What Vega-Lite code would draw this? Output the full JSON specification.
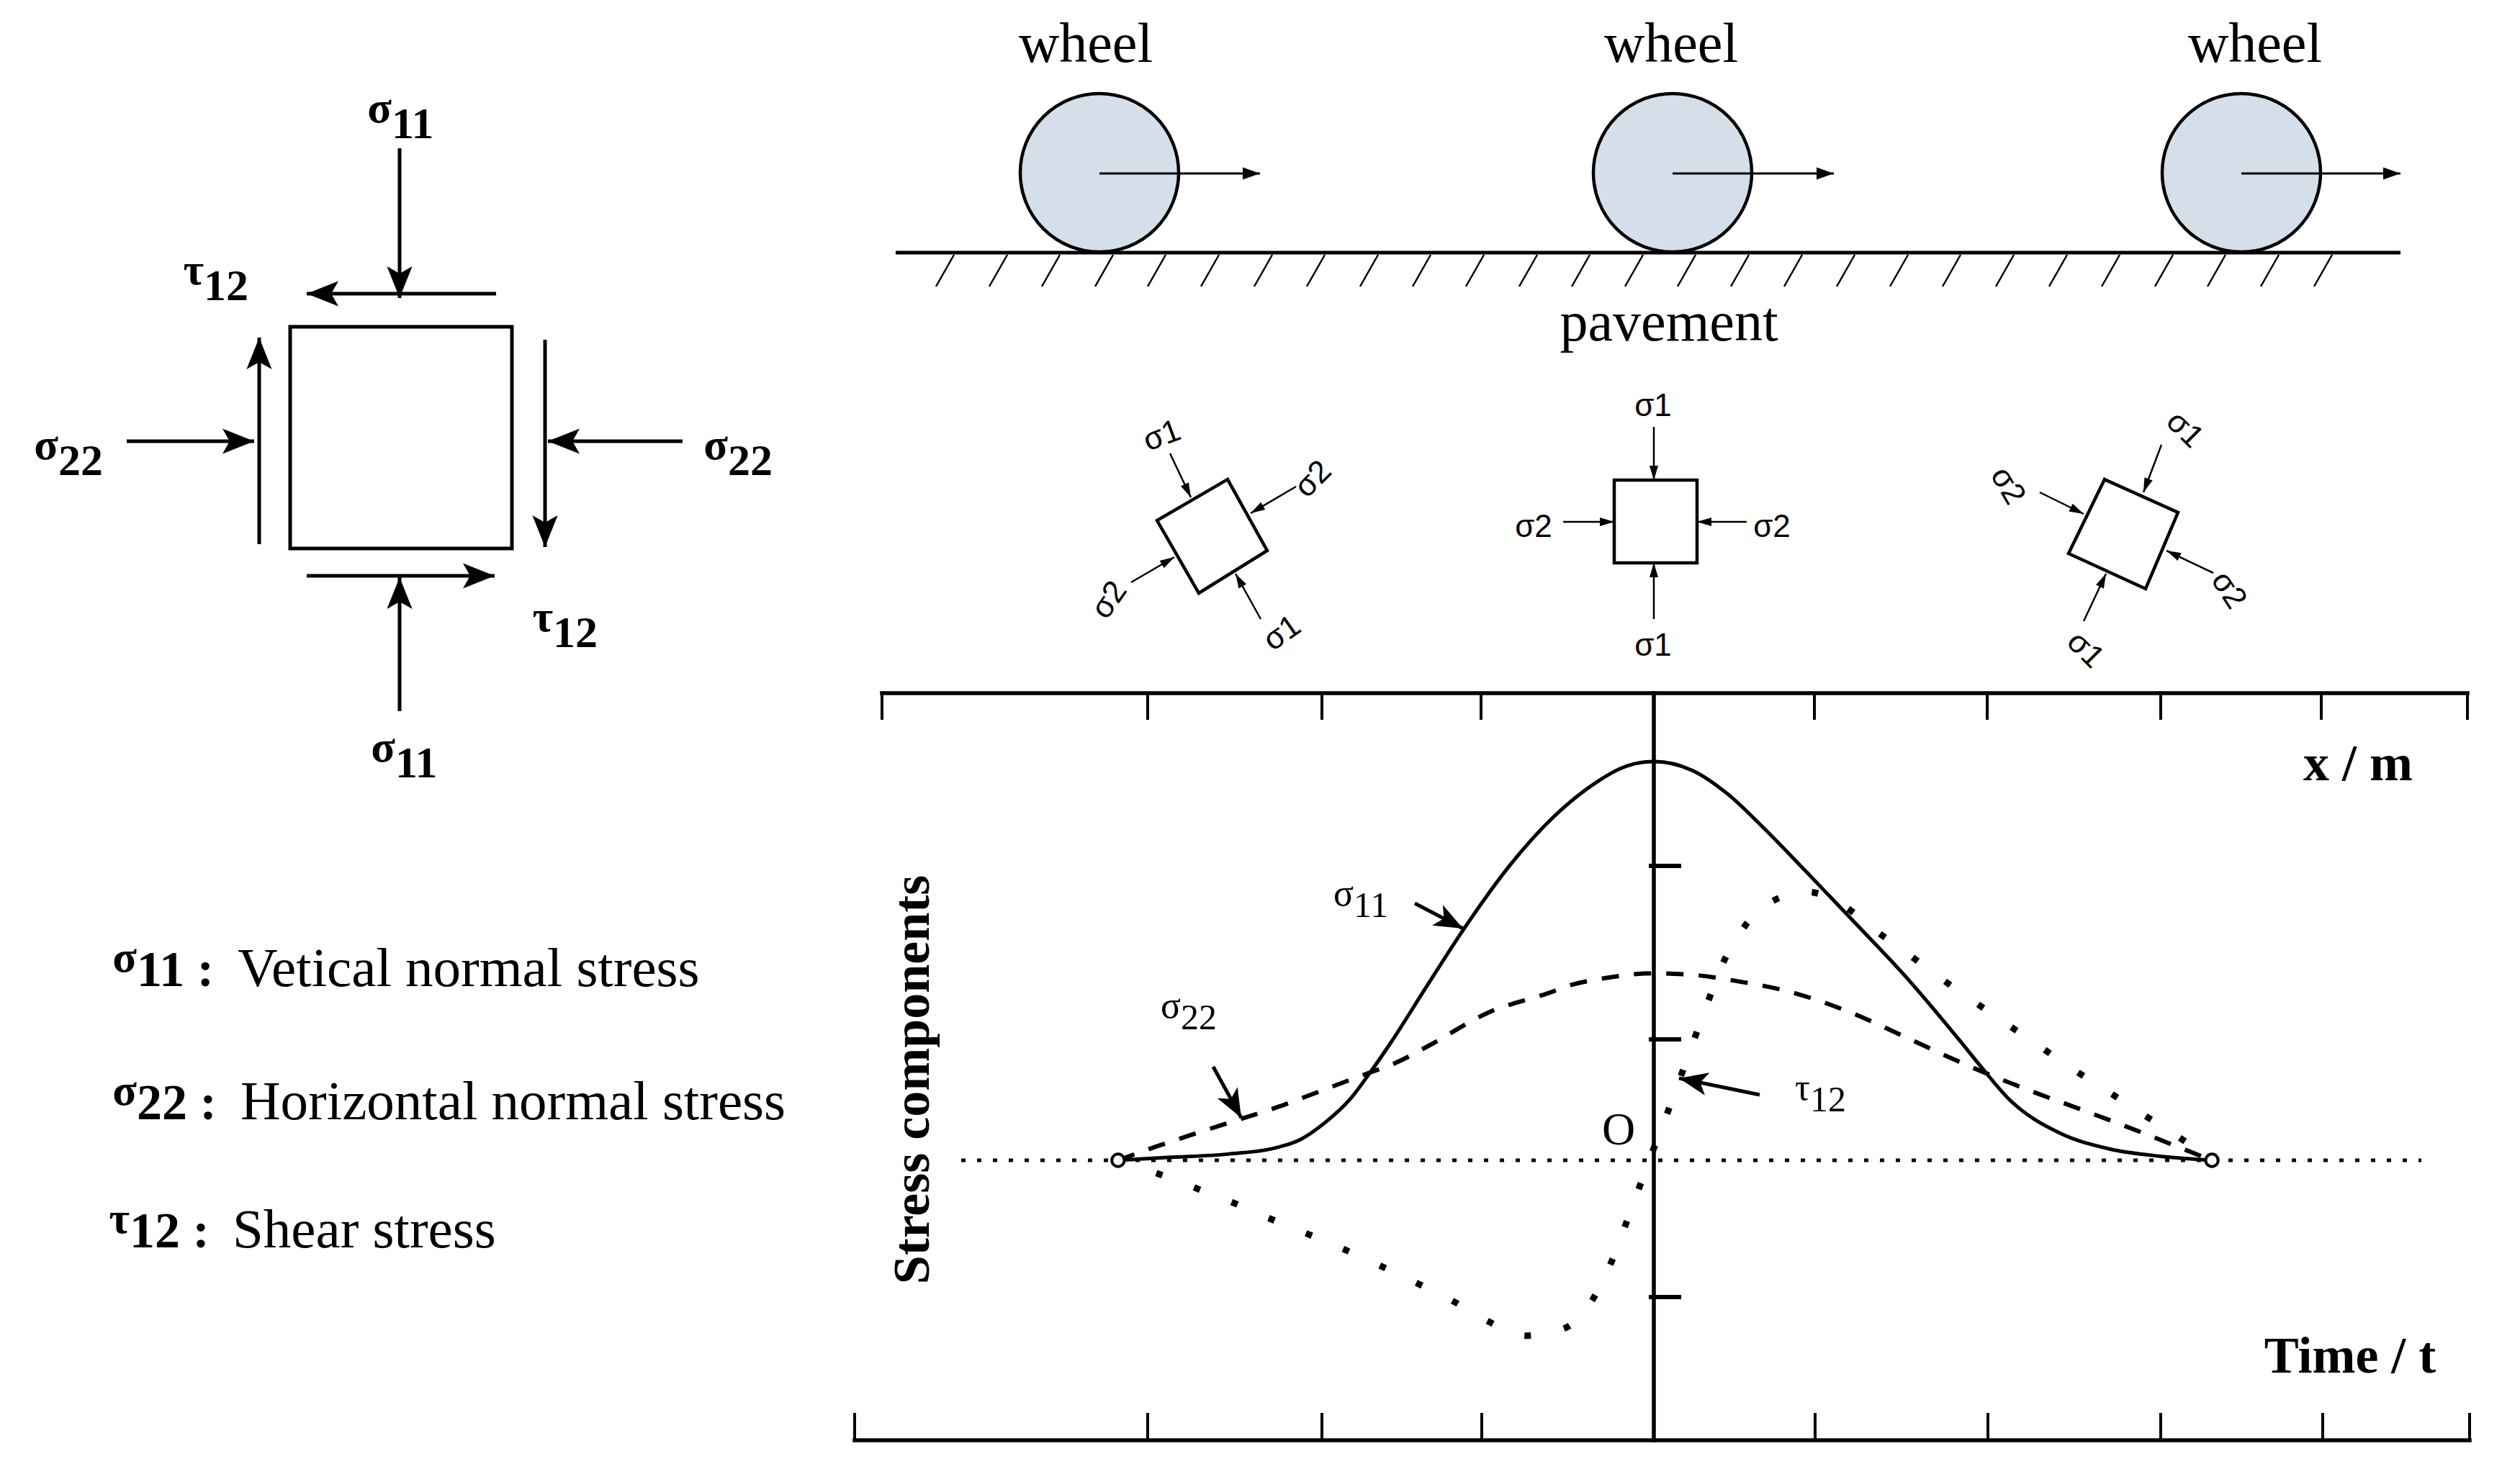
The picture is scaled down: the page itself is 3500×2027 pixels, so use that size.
{
  "$schema": "https://vega.github.io/schema/vega-lite/v6.json",
  "width": 3500,
  "height": 2027,
  "autosize": {"type": "fit", "contains": "padding"},
  "padding": 0,
  "background": "white",
  "config": {"view": {"stroke": null}},
  "datasets": {
    "segs": [
      {"kind": "axis", "x": 1225, "y": 963, "x2": 3427, "y2": 963},
      {"kind": "axis", "x": 1187, "y": 2001, "x2": 3430, "y2": 2001},
      {"kind": "axis", "x": 2297, "y": 963, "x2": 2297, "y2": 2001},
      {"kind": "tick", "x": 1225, "y": 963, "x2": 1225, "y2": 1000},
      {"kind": "tick", "x": 1594, "y": 963, "x2": 1594, "y2": 1000},
      {"kind": "tick", "x": 1836, "y": 963, "x2": 1836, "y2": 1000},
      {"kind": "tick", "x": 2057, "y": 963, "x2": 2057, "y2": 1000},
      {"kind": "tick", "x": 2520, "y": 963, "x2": 2520, "y2": 1000},
      {"kind": "tick", "x": 2760, "y": 963, "x2": 2760, "y2": 1000},
      {"kind": "tick", "x": 3001, "y": 963, "x2": 3001, "y2": 1000},
      {"kind": "tick", "x": 3224, "y": 963, "x2": 3224, "y2": 1000},
      {"kind": "tick", "x": 3427, "y": 963, "x2": 3427, "y2": 1000},
      {"kind": "tick", "x": 1187, "y": 2001, "x2": 1187, "y2": 1963},
      {"kind": "tick", "x": 1594, "y": 2001, "x2": 1594, "y2": 1963},
      {"kind": "tick", "x": 1836, "y": 2001, "x2": 1836, "y2": 1963},
      {"kind": "tick", "x": 2058, "y": 2001, "x2": 2058, "y2": 1963},
      {"kind": "tick", "x": 2521, "y": 2001, "x2": 2521, "y2": 1963},
      {"kind": "tick", "x": 2761, "y": 2001, "x2": 2761, "y2": 1963},
      {"kind": "tick", "x": 3001, "y": 2001, "x2": 3001, "y2": 1963},
      {"kind": "tick", "x": 3226, "y": 2001, "x2": 3226, "y2": 1963},
      {"kind": "tick", "x": 3430, "y": 2001, "x2": 3430, "y2": 1963},
      {"kind": "ytick", "x": 2290, "y": 1203, "x2": 2335, "y2": 1203},
      {"kind": "ytick", "x": 2290, "y": 1444, "x2": 2335, "y2": 1444},
      {"kind": "ytick", "x": 2290, "y": 1802, "x2": 2335, "y2": 1802},
      {"kind": "ground", "x": 1244, "y": 351, "x2": 3334, "y2": 351},
      {"kind": "hatch", "x": 1325, "y": 354, "x2": 1300, "y2": 398},
      {"kind": "hatch", "x": 1399, "y": 354, "x2": 1374, "y2": 398},
      {"kind": "hatch", "x": 1472, "y": 354, "x2": 1447, "y2": 398},
      {"kind": "hatch", "x": 1546, "y": 354, "x2": 1521, "y2": 398},
      {"kind": "hatch", "x": 1619, "y": 354, "x2": 1594, "y2": 398},
      {"kind": "hatch", "x": 1693, "y": 354, "x2": 1668, "y2": 398},
      {"kind": "hatch", "x": 1767, "y": 354, "x2": 1742, "y2": 398},
      {"kind": "hatch", "x": 1840, "y": 354, "x2": 1815, "y2": 398},
      {"kind": "hatch", "x": 1914, "y": 354, "x2": 1889, "y2": 398},
      {"kind": "hatch", "x": 1987, "y": 354, "x2": 1962, "y2": 398},
      {"kind": "hatch", "x": 2061, "y": 354, "x2": 2036, "y2": 398},
      {"kind": "hatch", "x": 2135, "y": 354, "x2": 2110, "y2": 398},
      {"kind": "hatch", "x": 2208, "y": 354, "x2": 2183, "y2": 398},
      {"kind": "hatch", "x": 2282, "y": 354, "x2": 2257, "y2": 398},
      {"kind": "hatch", "x": 2355, "y": 354, "x2": 2330, "y2": 398},
      {"kind": "hatch", "x": 2429, "y": 354, "x2": 2404, "y2": 398},
      {"kind": "hatch", "x": 2503, "y": 354, "x2": 2478, "y2": 398},
      {"kind": "hatch", "x": 2576, "y": 354, "x2": 2551, "y2": 398},
      {"kind": "hatch", "x": 2650, "y": 354, "x2": 2625, "y2": 398},
      {"kind": "hatch", "x": 2723, "y": 354, "x2": 2698, "y2": 398},
      {"kind": "hatch", "x": 2797, "y": 354, "x2": 2772, "y2": 398},
      {"kind": "hatch", "x": 2871, "y": 354, "x2": 2846, "y2": 398},
      {"kind": "hatch", "x": 2944, "y": 354, "x2": 2919, "y2": 398},
      {"kind": "hatch", "x": 3018, "y": 354, "x2": 2993, "y2": 398},
      {"kind": "hatch", "x": 3091, "y": 354, "x2": 3066, "y2": 398},
      {"kind": "hatch", "x": 3165, "y": 354, "x2": 3140, "y2": 398},
      {"kind": "hatch", "x": 3239, "y": 354, "x2": 3214, "y2": 398},
      {"kind": "zero", "x": 1335, "y": 1612, "x2": 3363, "y2": 1612}
    ],
    "arrows": [
      {"kind": "element", "x": 555, "y": 206, "x2": 555, "y2": 414, "ang": 180},
      {"kind": "element", "x": 555, "y": 988, "x2": 555, "y2": 802, "ang": 0},
      {"kind": "element", "x": 689, "y": 408, "x2": 426, "y2": 408, "ang": 270},
      {"kind": "element", "x": 426, "y": 800, "x2": 687, "y2": 800, "ang": 90},
      {"kind": "element", "x": 360, "y": 756, "x2": 360, "y2": 469, "ang": 0},
      {"kind": "element", "x": 757, "y": 472, "x2": 757, "y2": 760, "ang": 180},
      {"kind": "element", "x": 176, "y": 613, "x2": 353, "y2": 613, "ang": 90},
      {"kind": "element", "x": 948, "y": 613, "x2": 761, "y2": 613, "ang": 270},
      {"kind": "wheel", "x": 1527, "y": 241, "x2": 1750, "y2": 241, "ang": 90},
      {"kind": "wheel", "x": 2323, "y": 241, "x2": 2547, "y2": 241, "ang": 90},
      {"kind": "wheel", "x": 3113, "y": 241, "x2": 3334, "y2": 241, "ang": 90},
      {"kind": "small", "x": 2297, "y": 593, "x2": 2297, "y2": 667, "ang": 180},
      {"kind": "small", "x": 2297, "y": 860, "x2": 2297, "y2": 782, "ang": 0},
      {"kind": "small", "x": 2171, "y": 725, "x2": 2242, "y2": 725, "ang": 90},
      {"kind": "small", "x": 2426, "y": 725, "x2": 2357, "y2": 725, "ang": 270},
      {"kind": "small", "x": 1625, "y": 630, "x2": 1654, "y2": 691, "ang": 154.6},
      {"kind": "small", "x": 1800, "y": 676, "x2": 1737, "y2": 713, "ang": 239.6},
      {"kind": "small", "x": 1571, "y": 809, "x2": 1631, "y2": 774, "ang": 59.7},
      {"kind": "small", "x": 1751, "y": 860, "x2": 1716, "y2": 797, "ang": 330.9},
      {"kind": "small", "x": 3002, "y": 618, "x2": 2977, "y2": 684, "ang": 200.7},
      {"kind": "small", "x": 2833, "y": 684, "x2": 2894, "y2": 714, "ang": 116.2},
      {"kind": "small", "x": 3074, "y": 796, "x2": 3009, "y2": 765, "ang": 295.5},
      {"kind": "small", "x": 2894, "y": 863, "x2": 2925, "y2": 797, "ang": 25.2},
      {"kind": "chart", "x": 1965, "y": 1255, "x2": 2032, "y2": 1290, "ang": 117.6},
      {"kind": "chart", "x": 1685, "y": 1482, "x2": 1724, "y2": 1553, "ang": 151.2},
      {"kind": "chart", "x": 2444, "y": 1521, "x2": 2332, "y2": 1498, "ang": 281.6}
    ],
    "polys": [
      {"shape": "element", "i": 0, "x": 403, "y": 454},
      {"shape": "element", "i": 1, "x": 711, "y": 454},
      {"shape": "element", "i": 2, "x": 711, "y": 762},
      {"shape": "element", "i": 3, "x": 403, "y": 762},
      {"shape": "element", "i": 4, "x": 403, "y": 454},
      {"shape": "sqC", "i": 0, "x": 2242, "y": 667},
      {"shape": "sqC", "i": 1, "x": 2357, "y": 667},
      {"shape": "sqC", "i": 2, "x": 2357, "y": 782},
      {"shape": "sqC", "i": 3, "x": 2242, "y": 782},
      {"shape": "sqC", "i": 4, "x": 2242, "y": 667},
      {"shape": "sqL", "i": 0, "x": 1705, "y": 666},
      {"shape": "sqL", "i": 1, "x": 1760, "y": 765},
      {"shape": "sqL", "i": 2, "x": 1665, "y": 824},
      {"shape": "sqL", "i": 3, "x": 1607, "y": 723},
      {"shape": "sqL", "i": 4, "x": 1705, "y": 666},
      {"shape": "sqR", "i": 0, "x": 2923, "y": 666},
      {"shape": "sqR", "i": 1, "x": 3025, "y": 712},
      {"shape": "sqR", "i": 2, "x": 2980, "y": 818},
      {"shape": "sqR", "i": 3, "x": 2873, "y": 769},
      {"shape": "sqR", "i": 4, "x": 2923, "y": 666}
    ],
    "wheels": [
      {"x": 1527, "y": 240},
      {"x": 2323, "y": 240},
      {"x": 3113, "y": 240}
    ],
    "texts": [
      {"kind": "big", "x": 1508, "y": 86, "text": "wheel"},
      {"kind": "big", "x": 2321, "y": 86, "text": "wheel"},
      {"kind": "big", "x": 3132, "y": 86, "text": "wheel"},
      {"kind": "big", "x": 2318, "y": 473, "text": "pavement"},
      {"kind": "axisTitle", "x": 3275, "y": 1084, "text": "x / m"},
      {"kind": "axisTitle", "x": 3264, "y": 1907, "text": "Time / t"},
      {"kind": "vtitle", "x": 1268, "y": 1500, "text": "Stress components"},
      {"kind": "origin", "x": 2248, "y": 1571, "text": "O"}
    ],
    "symLabels": [
      {"kind": "element", "x": 544, "y": 170, "sym": "σ", "sub": "11"},
      {"kind": "element", "x": 549, "y": 1058, "sym": "σ", "sub": "11"},
      {"kind": "element", "x": 283, "y": 395, "sym": "τ", "sub": "12"},
      {"kind": "element", "x": 768, "y": 877, "sym": "τ", "sub": "12"},
      {"kind": "element", "x": 81, "y": 638, "sym": "σ", "sub": "22"},
      {"kind": "element", "x": 1011, "y": 638, "sym": "σ", "sub": "22"},
      {"kind": "chart", "x": 1880, "y": 1258, "sym": "σ", "sub": "11"},
      {"kind": "chart", "x": 1640, "y": 1414, "sym": "σ", "sub": "22"},
      {"kind": "chart", "x": 2514, "y": 1528, "sym": "τ", "sub": "12"}
    ],
    "legend": [
      {"x": 190, "y": 1370, "sym": "σ", "sub": "11 :", "xd": 330, "desc": "Vetical normal stress"},
      {"x": 190, "y": 1555, "sym": "σ", "sub": "22 :", "xd": 334, "desc": "Horizontal normal stress"},
      {"x": 180, "y": 1733, "sym": "τ", "sub": "12 :", "xd": 323, "desc": "Shear stress"}
    ],
    "smallLabels": [
      {"x": 2296, "y": 565, "text": "σ1", "ang": 0},
      {"x": 2296, "y": 898, "text": "σ1", "ang": 0},
      {"x": 2130, "y": 733, "text": "σ2", "ang": 0},
      {"x": 2461, "y": 733, "text": "σ2", "ang": 0},
      {"x": 1614, "y": 606, "text": "σ1", "ang": -20},
      {"x": 1824, "y": 666, "text": "σ2", "ang": -45},
      {"x": 1541, "y": 834, "text": "σ2", "ang": -55},
      {"x": 1781, "y": 880, "text": "σ1", "ang": -35},
      {"x": 3034, "y": 597, "text": "σ1", "ang": 45},
      {"x": 2788, "y": 675, "text": "σ2", "ang": 60},
      {"x": 3095, "y": 820, "text": "σ2", "ang": 57},
      {"x": 2896, "y": 903, "text": "σ1", "ang": 45}
    ],
    "curves": [
      {"c": "s11", "t": -3.195, "s": 0},
      {"c": "s11", "t": -2.898, "s": 0.007},
      {"c": "s11", "t": -2.529, "s": 0.016},
      {"c": "s11", "t": -2.258, "s": 0.031},
      {"c": "s11", "t": -2.108, "s": 0.052},
      {"c": "s11", "t": -1.962, "s": 0.094},
      {"c": "s11", "t": -1.812, "s": 0.153},
      {"c": "s11", "t": -1.692, "s": 0.220},
      {"c": "s11", "t": -1.567, "s": 0.296},
      {"c": "s11", "t": -1.361, "s": 0.432},
      {"c": "s11", "t": -1.138, "s": 0.577},
      {"c": "s11", "t": -0.854, "s": 0.742},
      {"c": "s11", "t": -0.601, "s": 0.860},
      {"c": "s11", "t": -0.343, "s": 0.948},
      {"c": "s11", "t": -0.202, "s": 0.982},
      {"c": "s11", "t": 0, "s": 1.0},
      {"c": "s11", "t": 0.228, "s": 0.978},
      {"c": "s11", "t": 0.442, "s": 0.918},
      {"c": "s11", "t": 0.644, "s": 0.838},
      {"c": "s11", "t": 0.915, "s": 0.721},
      {"c": "s11", "t": 1.219, "s": 0.587},
      {"c": "s11", "t": 1.520, "s": 0.452},
      {"c": "s11", "t": 1.821, "s": 0.302},
      {"c": "s11", "t": 1.941, "s": 0.240},
      {"c": "s11", "t": 2.121, "s": 0.152},
      {"c": "s11", "t": 2.422, "s": 0.068},
      {"c": "s11", "t": 2.722, "s": 0.028},
      {"c": "s11", "t": 3.023, "s": 0.010},
      {"c": "s11", "t": 3.328, "s": 0},
      {"c": "s22", "t": -3.195, "s": 0},
      {"c": "s22", "t": -2.971, "s": 0.034},
      {"c": "s22", "t": -2.800, "s": 0.058},
      {"c": "s22", "t": -2.602, "s": 0.085},
      {"c": "s22", "t": -2.430, "s": 0.108},
      {"c": "s22", "t": -2.233, "s": 0.135},
      {"c": "s22", "t": -2.061, "s": 0.162},
      {"c": "s22", "t": -1.885, "s": 0.190},
      {"c": "s22", "t": -1.713, "s": 0.217},
      {"c": "s22", "t": -1.541, "s": 0.244},
      {"c": "s22", "t": -1.344, "s": 0.287},
      {"c": "s22", "t": -0.979, "s": 0.372},
      {"c": "s22", "t": -0.631, "s": 0.419},
      {"c": "s22", "t": -0.489, "s": 0.440},
      {"c": "s22", "t": -0.288, "s": 0.457},
      {"c": "s22", "t": 0, "s": 0.469},
      {"c": "s22", "t": 0.258, "s": 0.464},
      {"c": "s22", "t": 0.472, "s": 0.451},
      {"c": "s22", "t": 0.824, "s": 0.421},
      {"c": "s22", "t": 1.189, "s": 0.368},
      {"c": "s22", "t": 1.520, "s": 0.305},
      {"c": "s22", "t": 1.881, "s": 0.236},
      {"c": "s22", "t": 2.241, "s": 0.175},
      {"c": "s22", "t": 2.602, "s": 0.119},
      {"c": "s22", "t": 2.963, "s": 0.061},
      {"c": "s22", "t": 3.177, "s": 0.025},
      {"c": "s22", "t": 3.328, "s": 0},
      {"c": "t12", "t": -3.195, "s": 0},
      {"c": "t12", "t": -2.941, "s": -0.036},
      {"c": "t12", "t": -2.718, "s": -0.072},
      {"c": "t12", "t": -2.499, "s": -0.108},
      {"c": "t12", "t": -2.280, "s": -0.148},
      {"c": "t12", "t": -2.057, "s": -0.186},
      {"c": "t12", "t": -1.833, "s": -0.226},
      {"c": "t12", "t": -1.619, "s": -0.267},
      {"c": "t12", "t": -1.408, "s": -0.309},
      {"c": "t12", "t": -1.194, "s": -0.354},
      {"c": "t12", "t": -0.988, "s": -0.404},
      {"c": "t12", "t": -0.764, "s": -0.440},
      {"c": "t12", "t": -0.537, "s": -0.422},
      {"c": "t12", "t": -0.369, "s": -0.352},
      {"c": "t12", "t": -0.262, "s": -0.264},
      {"c": "t12", "t": -0.176, "s": -0.170},
      {"c": "t12", "t": -0.094, "s": -0.076},
      {"c": "t12", "t": -0.013, "s": 0.016},
      {"c": "t12", "t": 0.073, "s": 0.110},
      {"c": "t12", "t": 0.155, "s": 0.204},
      {"c": "t12", "t": 0.236, "s": 0.298},
      {"c": "t12", "t": 0.318, "s": 0.392},
      {"c": "t12", "t": 0.404, "s": 0.487},
      {"c": "t12", "t": 0.520, "s": 0.574},
      {"c": "t12", "t": 0.691, "s": 0.646},
      {"c": "t12", "t": 0.915, "s": 0.673},
      {"c": "t12", "t": 1.129, "s": 0.639},
      {"c": "t12", "t": 1.322, "s": 0.576},
      {"c": "t12", "t": 1.520, "s": 0.516},
      {"c": "t12", "t": 1.709, "s": 0.457},
      {"c": "t12", "t": 1.906, "s": 0.399},
      {"c": "t12", "t": 2.100, "s": 0.343},
      {"c": "t12", "t": 2.297, "s": 0.287},
      {"c": "t12", "t": 2.490, "s": 0.231},
      {"c": "t12", "t": 2.692, "s": 0.177},
      {"c": "t12", "t": 2.894, "s": 0.121},
      {"c": "t12", "t": 3.091, "s": 0.069},
      {"c": "t12", "t": 3.328, "s": 0}
    ],
    "ends": [
      {"t": -3.195, "s": 0},
      {"t": 3.328, "s": 0}
    ]
  },
  "layer": [
    {
      "encoding": {
        "x": {"field": "x", "type": "quantitative", "scale": {"domain": [0, 3500], "nice": false, "zero": false}, "axis": null},
        "y": {"field": "y", "type": "quantitative", "scale": {"domain": [0, 2027], "nice": false, "zero": false, "reverse": true}, "axis": null}
      },
      "layer": [
        {
          "data": {"name": "wheels"},
          "mark": {"type": "point", "shape": "circle", "size": 48400, "filled": true, "fill": "#d4dfea", "stroke": "black", "strokeWidth": 4.5, "opacity": 1}
        },
        {
          "data": {"name": "segs"},
          "transform": [{"filter": {"field": "kind", "equal": "ground"}}],
          "mark": {"type": "rule", "color": "black", "strokeWidth": 5},
          "encoding": {"x2": {"field": "x2"}, "y2": {"field": "y2"}}
        },
        {
          "data": {"name": "segs"},
          "transform": [{"filter": {"field": "kind", "equal": "hatch"}}],
          "mark": {"type": "rule", "color": "black", "strokeWidth": 2.5},
          "encoding": {"x2": {"field": "x2"}, "y2": {"field": "y2"}}
        },
        {
          "data": {"name": "segs"},
          "transform": [{"filter": {"field": "kind", "equal": "axis"}}],
          "mark": {"type": "rule", "color": "black", "strokeWidth": 5.5, "strokeCap": "square"},
          "encoding": {"x2": {"field": "x2"}, "y2": {"field": "y2"}}
        },
        {
          "data": {"name": "segs"},
          "transform": [{"filter": {"field": "kind", "equal": "tick"}}],
          "mark": {"type": "rule", "color": "black", "strokeWidth": 4},
          "encoding": {"x2": {"field": "x2"}, "y2": {"field": "y2"}}
        },
        {
          "data": {"name": "segs"},
          "transform": [{"filter": {"field": "kind", "equal": "ytick"}}],
          "mark": {"type": "rule", "color": "black", "strokeWidth": 6},
          "encoding": {"x2": {"field": "x2"}, "y2": {"field": "y2"}}
        },
        {
          "data": {"name": "segs"},
          "transform": [{"filter": {"field": "kind", "equal": "zero"}}],
          "mark": {"type": "rule", "color": "black", "strokeWidth": 5, "strokeDash": [6, 16]},
          "encoding": {"x2": {"field": "x2"}, "y2": {"field": "y2"}}
        },
        {
          "data": {"name": "polys"},
          "transform": [{"filter": {"field": "shape", "equal": "element"}}],
          "mark": {"type": "line", "color": "black", "strokeWidth": 5, "strokeJoin": "miter", "strokeCap": "square"},
          "encoding": {"order": {"field": "i", "type": "quantitative"}, "detail": {"field": "shape"}}
        },
        {
          "data": {"name": "polys"},
          "transform": [{"filter": {"field": "shape", "oneOf": ["sqL", "sqC", "sqR"]}}],
          "mark": {"type": "line", "color": "black", "strokeWidth": 4.5, "strokeJoin": "miter", "strokeCap": "square"},
          "encoding": {"order": {"field": "i", "type": "quantitative"}, "detail": {"field": "shape"}}
        },
        {
          "data": {"name": "arrows"},
          "transform": [{"filter": {"field": "kind", "equal": "element"}}],
          "mark": {"type": "rule", "color": "black", "strokeWidth": 5},
          "encoding": {"x2": {"field": "x2"}, "y2": {"field": "y2"}}
        },
        {
          "data": {"name": "arrows"},
          "transform": [{"filter": {"field": "kind", "equal": "element"}}],
          "mark": {"type": "point", "shape": "M0,0L-0.8,2L0,1.55L0.8,2Z", "size": 1936, "filled": true, "color": "black", "opacity": 1, "strokeWidth": 0},
          "encoding": {
            "x": {"field": "x2", "type": "quantitative"},
            "y": {"field": "y2", "type": "quantitative"},
            "angle": {"field": "ang", "type": "quantitative", "scale": null}
          }
        },
        {
          "data": {"name": "arrows"},
          "transform": [{"filter": {"field": "kind", "equal": "wheel"}}],
          "mark": {"type": "rule", "color": "black", "strokeWidth": 3},
          "encoding": {"x2": {"field": "x2"}, "y2": {"field": "y2"}}
        },
        {
          "data": {"name": "arrows"},
          "transform": [{"filter": {"field": "kind", "equal": "wheel"}}],
          "mark": {"type": "point", "shape": "M0,0L-0.7,2L0.7,2Z", "size": 576, "filled": true, "color": "black", "opacity": 1, "strokeWidth": 0},
          "encoding": {
            "x": {"field": "x2", "type": "quantitative"},
            "y": {"field": "y2", "type": "quantitative"},
            "angle": {"field": "ang", "type": "quantitative", "scale": null}
          }
        },
        {
          "data": {"name": "arrows"},
          "transform": [{"filter": {"field": "kind", "equal": "small"}}],
          "mark": {"type": "rule", "color": "black", "strokeWidth": 2.5},
          "encoding": {"x2": {"field": "x2"}, "y2": {"field": "y2"}}
        },
        {
          "data": {"name": "arrows"},
          "transform": [{"filter": {"field": "kind", "equal": "small"}}],
          "mark": {"type": "point", "shape": "M0,0L-0.6,2L0.6,2Z", "size": 400, "filled": true, "color": "black", "opacity": 1, "strokeWidth": 0},
          "encoding": {
            "x": {"field": "x2", "type": "quantitative"},
            "y": {"field": "y2", "type": "quantitative"},
            "angle": {"field": "ang", "type": "quantitative", "scale": null}
          }
        },
        {
          "data": {"name": "arrows"},
          "transform": [{"filter": {"field": "kind", "equal": "chart"}}],
          "mark": {"type": "rule", "color": "black", "strokeWidth": 5},
          "encoding": {"x2": {"field": "x2"}, "y2": {"field": "y2"}}
        },
        {
          "data": {"name": "arrows"},
          "transform": [{"filter": {"field": "kind", "equal": "chart"}}],
          "mark": {"type": "point", "shape": "M0,0L-0.8,2L0,1.5L0.8,2Z", "size": 1600, "filled": true, "color": "black", "opacity": 1, "strokeWidth": 0},
          "encoding": {
            "x": {"field": "x2", "type": "quantitative"},
            "y": {"field": "y2", "type": "quantitative"},
            "angle": {"field": "ang", "type": "quantitative", "scale": null}
          }
        },
        {
          "data": {"name": "texts"},
          "transform": [{"filter": {"field": "kind", "equal": "big"}}],
          "mark": {"type": "text", "font": "Liberation Serif", "fontSize": 78, "align": "center", "baseline": "alphabetic", "color": "black"},
          "encoding": {"text": {"field": "text"}}
        },
        {
          "data": {"name": "texts"},
          "transform": [{"filter": {"field": "kind", "equal": "axisTitle"}}],
          "mark": {"type": "text", "font": "Liberation Serif", "fontSize": 72, "fontWeight": "bold", "align": "center", "baseline": "alphabetic", "color": "black"},
          "encoding": {"text": {"field": "text"}}
        },
        {
          "data": {"name": "texts"},
          "transform": [{"filter": {"field": "kind", "equal": "vtitle"}}],
          "mark": {"type": "text", "font": "Liberation Serif", "fontSize": 72, "fontWeight": "bold", "align": "center", "baseline": "middle", "angle": 270, "color": "black"},
          "encoding": {"text": {"field": "text"}}
        },
        {
          "data": {"name": "texts"},
          "transform": [{"filter": {"field": "kind", "equal": "origin"}}],
          "mark": {"type": "text", "font": "Liberation Serif", "fontSize": 64, "align": "center", "baseline": "middle", "color": "black"},
          "encoding": {"text": {"field": "text"}}
        },
        {
          "data": {"name": "symLabels"},
          "transform": [{"filter": {"field": "kind", "equal": "element"}}],
          "mark": {"type": "text", "font": "Liberation Serif", "fontSize": 62, "fontWeight": "bold", "align": "right", "baseline": "alphabetic", "color": "black"},
          "encoding": {"text": {"field": "sym"}}
        },
        {
          "data": {"name": "symLabels"},
          "transform": [{"filter": {"field": "kind", "equal": "element"}}],
          "mark": {"type": "text", "font": "Liberation Serif", "fontSize": 62, "fontWeight": "bold", "align": "left", "baseline": "alphabetic", "dy": 22, "color": "black"},
          "encoding": {"text": {"field": "sub"}}
        },
        {
          "data": {"name": "symLabels"},
          "transform": [{"filter": {"field": "kind", "equal": "chart"}}],
          "mark": {"type": "text", "font": "Liberation Serif", "fontSize": 52, "align": "right", "baseline": "alphabetic", "color": "black"},
          "encoding": {"text": {"field": "sym"}}
        },
        {
          "data": {"name": "symLabels"},
          "transform": [{"filter": {"field": "kind", "equal": "chart"}}],
          "mark": {"type": "text", "font": "Liberation Serif", "fontSize": 50, "align": "left", "baseline": "alphabetic", "dy": 16, "color": "black"},
          "encoding": {"text": {"field": "sub"}}
        },
        {
          "data": {"name": "legend"},
          "mark": {"type": "text", "font": "Liberation Serif", "fontSize": 62, "fontWeight": "bold", "align": "right", "baseline": "alphabetic", "dy": -20, "color": "black"},
          "encoding": {"text": {"field": "sym"}}
        },
        {
          "data": {"name": "legend"},
          "mark": {"type": "text", "font": "Liberation Serif", "fontSize": 70, "fontWeight": "bold", "align": "left", "baseline": "alphabetic", "color": "black"},
          "encoding": {"text": {"field": "sub"}}
        },
        {
          "data": {"name": "legend"},
          "mark": {"type": "text", "font": "Liberation Serif", "fontSize": 77, "align": "left", "baseline": "alphabetic", "color": "black"},
          "encoding": {
            "x": {"field": "xd", "type": "quantitative"},
            "text": {"field": "desc"}
          }
        },
        {
          "data": {"name": "smallLabels"},
          "mark": {"type": "text", "font": "Liberation Sans", "fontSize": 44, "align": "center", "baseline": "middle", "color": "black"},
          "encoding": {
            "text": {"field": "text"},
            "angle": {"field": "ang", "type": "quantitative", "scale": null}
          }
        }
      ]
    },
    {
      "encoding": {
        "x": {"field": "t", "type": "quantitative", "scale": {"domain": [-9.8626, 5.1653], "nice": false, "zero": false}, "axis": null},
        "y": {"field": "s", "type": "quantitative", "scale": {"domain": [-0.7491, 2.9097], "nice": false, "zero": false}, "axis": null}
      },
      "layer": [
        {
          "data": {"name": "curves"},
          "transform": [{"filter": {"field": "c", "equal": "s22"}}],
          "mark": {"type": "line", "interpolate": "monotone", "color": "black", "strokeWidth": 6, "strokeDash": [24, 21]}
        },
        {
          "data": {"name": "curves"},
          "transform": [{"filter": {"field": "c", "equal": "t12"}}],
          "mark": {"type": "line", "interpolate": "monotone", "color": "black", "strokeWidth": 9, "strokeDash": [9, 47]}
        },
        {
          "data": {"name": "curves"},
          "transform": [{"filter": {"field": "c", "equal": "s11"}}],
          "mark": {"type": "line", "interpolate": "monotone", "color": "black", "strokeWidth": 5}
        },
        {
          "data": {"name": "ends"},
          "mark": {"type": "point", "shape": "circle", "size": 300, "filled": true, "fill": "white", "stroke": "black", "strokeWidth": 4, "opacity": 1}
        }
      ]
    }
  ],
  "resolve": {"scale": {"x": "independent", "y": "independent"}}
}
